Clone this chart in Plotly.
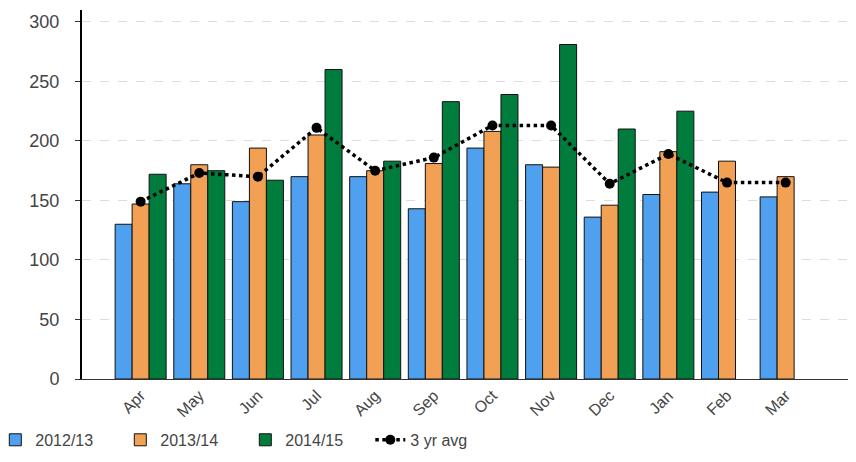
import plotly.graph_objects as go

months = ["Apr", "May", "Jun", "Jul", "Aug", "Sep", "Oct", "Nov", "Dec", "Jan", "Feb", "Mar"]
s2012 = [130, 164, 149, 170, 170, 143, 194, 180, 136, 155, 157, 153]
s2013 = [147, 180, 194, 205, 175, 181, 208, 178, 146, 191, 183, 170]
s2014 = [172, 175, 167, 260, 183, 233, 239, 281, 210, 225, None, None]
avg3 = [149, 173, 170, 211, 175, 186, 213, 213, 164, 189, 165, 165]
yticks = [0, 50, 100, 150, 200, 250, 300]

fig = go.Figure()
for name, vals, col in [("2012/13", s2012, "#4FA0EE"), ("2013/14", s2013, "#F2A154"), ("2014/15", s2014, "#007D3C")]:
    fig.add_trace(go.Bar(x=months, y=vals, name=name, marker=dict(color=col, line=dict(color="#111", width=1))))
fig.add_trace(go.Scatter(x=months, y=avg3, name="3 yr avg", mode="lines+markers",
                         line=dict(color="black", width=3.5, dash="dot"),
                         marker=dict(color="black", size=10)))

fig.update_layout(
    width=856, height=462, barmode="group", bargap=0.13, bargroupgap=0,
    plot_bgcolor="white", paper_bgcolor="white",
    margin=dict(l=74, r=8, t=2, b=91, autoexpand=False),
    font=dict(family="Liberation Sans, Arial, sans-serif", color="#444", size=15),
    legend=dict(orientation="h", x=-0.112, xanchor="left", y=-0.165, yanchor="middle",
                font=dict(size=16, color="#444"), itemwidth=30, traceorder="normal",
                tracegroupgap=0, entrywidth=80, entrywidthmode="pixels"),
    showlegend=True,
)
fig.update_xaxes(range=[-1.0, 12.2], tickangle=-45, showline=True, linecolor="#333", linewidth=1,
                 ticks="", tickfont=dict(size=16, color="#444"))
fig.update_yaxes(range=[0, 310], tickvals=yticks, showline=True, linecolor="black", linewidth=2,
                 ticks="outside", ticklen=5, tickcolor="#333", showgrid=True, gridcolor="#dcdcdc",
                 griddash="dash", gridwidth=1, tickfont=dict(size=18, color="#444"), zeroline=False,
                 ticklabelstandoff=12)
fig.write_html("out.html")
